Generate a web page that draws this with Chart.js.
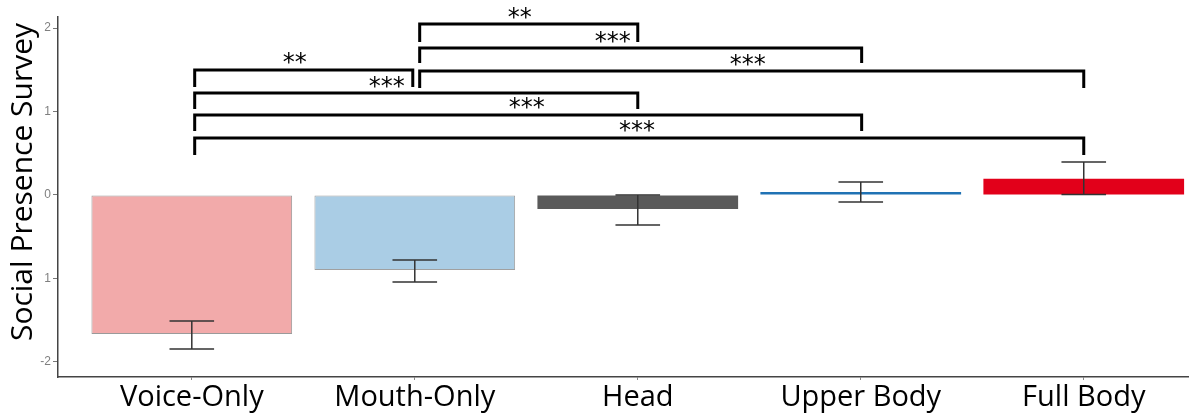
<!DOCTYPE html>
<html>
<head>
<meta charset="utf-8">
<script src="https://cdn.jsdelivr.net/npm/chart.js@4"></script>
<style>
  html, body { margin: 0; padding: 0; background: #fff; overflow: hidden; }
  #chart { display: block; }
</style>
</head>
<body>
<canvas id="chart" width="1189" height="415"></canvas>
<script>
// Conditions and mean scores
const categories = ['Voice-Only', 'Mouth-Only', 'Head', 'Upper Body', 'Full Body'];
const means = [-1.665, -0.898, -0.168, 0.035, 0.195];
const errHigh = [-1.509, -0.778, 0.0, 0.156, 0.395];
const errLow = [-1.844, -1.042, -0.359, -0.084, 0.005];
const barColors = ['#F2AAAA', '#AACDE5', '#5A5A5A', '#2072B4', '#E2001A'];
const barBorders = ['#9A9A9A', '#A0A0A0', '#5A5A5A', '#2072B4', '#E2001A'];
const barBorderWidths = [1, 1, 0, 0, 0];

// y ticks, the -1 label is printed without its minus sign in the original
const yTickValues = [-2, -1, 0, 1, 2];
const yTickLabels = ['-2', '1', '0', '1', '2'];

// Significance brackets: start / end position (category units), top and leg bottom (y)
const bracketFrom = [2.022, 2.022, 2.022, 1.013, 1.013, 1.013, 1.013];
const bracketTo = [3.0, 4.004, 5.0, 1.991, 3.0, 4.004, 5.0];
const bracketTop = [2.048, 1.760, 1.485, 1.497, 1.222, 0.958, 0.683];
const bracketBottom = [1.832, 1.581, 1.281, 1.293, 1.030, 0.766, 0.479];

// Star labels
const starText = ['**', '***', '***', '**', '***', '***', '***'];
const starX = [2.471, 2.888, 3.493, 1.462, 1.874, 2.502, 2.996];
const starY = [2.18, 1.892, 1.617, 1.641, 1.353, 1.102, 0.826];

const barData = categories.map((c, i) => ({ x: i + 1, y: means[i] }));

const bracketSets = bracketFrom.map((f, i) => ({
  type: 'line',
  data: [
    { x: f, y: bracketBottom[i] },
    { x: f, y: bracketTop[i] },
    { x: bracketTo[i], y: bracketTop[i] },
    { x: bracketTo[i], y: bracketBottom[i] }
  ],
  borderColor: '#000',
  borderWidth: 3,
  pointRadius: 0,
  tension: 0,
  fill: false,
  clip: false,
  borderJoinStyle: 'miter'
}));

// error bars drawn on top of the bars
const errorBars = {
  id: 'errorBars',
  afterDatasetsDraw(chart) {
    const ctx = chart.ctx;
    const xs = chart.scales.x, ys = chart.scales.y;
    const half = (xs.getPixelForValue(1.1) - xs.getPixelForValue(1)); // cap half width
    ctx.save();
    ctx.strokeStyle = '#333';
    ctx.lineWidth = 1.5;
    categories.forEach((c, i) => {
      const x = xs.getPixelForValue(i + 1);
      const yh = ys.getPixelForValue(errHigh[i]);
      const yl = ys.getPixelForValue(errLow[i]);
      ctx.beginPath();
      ctx.moveTo(x, yh); ctx.lineTo(x, yl);
      ctx.moveTo(x - half, yh); ctx.lineTo(x + half, yh);
      ctx.moveTo(x - half, yl); ctx.lineTo(x + half, yl);
      ctx.stroke();
    });
    ctx.restore();
  }
};

// stars over brackets + rotated y title
const annotations = {
  id: 'annotations',
  afterDraw(chart) {
    const ctx = chart.ctx;
    const xs = chart.scales.x, ys = chart.scales.y;
    ctx.save();
    ctx.fillStyle = '#000';
    ctx.font = '24px "DejaVu Sans"';
    ctx.textAlign = 'center';
    ctx.textBaseline = 'alphabetic';
    starText.forEach((t, i) => {
      const m = ctx.measureText(t);
      const cy = ys.getPixelForValue(starY[i]);
      ctx.fillText(t, xs.getPixelForValue(starX[i]), cy + (m.actualBoundingBoxAscent - m.actualBoundingBoxDescent) / 2);
    });

    ctx.translate(23, 182);
    ctx.rotate(-Math.PI / 2);
    ctx.font = '30px "Open Sans"';
    ctx.textBaseline = 'middle';
    ctx.fillText('Social Presence Survey', 0, 0);
    ctx.restore();
  }
};

const chart = new Chart(document.getElementById('chart'), {
  type: 'bar',
  data: {
    datasets: [{
      type: 'bar',
      data: barData,
      backgroundColor: barColors,
      borderColor: barBorders,
      borderWidth: barBorderWidths,
      borderSkipped: false,
      barPercentage: 0.9,
      categoryPercentage: 1.0
    }, ...bracketSets]
  },
  options: {
    responsive: false,
    animation: false,
    devicePixelRatio: 1,
    layout: { padding: { top: 17, left: 0, right: 0, bottom: 0 } },
    plugins: { legend: { display: false }, tooltip: { enabled: false } },
    scales: {
      x: {
        type: 'linear',
        offset: false,
        min: 0.4,
        max: 5.472,
        afterBuildTicks: (s) => { s.ticks = categories.map((c, i) => ({ value: i + 1 })); },
        afterFit: (s) => { s.height = 38; },
        ticks: {
          callback: (v) => categories[Math.round(v) - 1] || '',
          font: { family: 'Open Sans', size: 29 },
          color: '#000',
          padding: 0,
          maxRotation: 0,
          autoSkip: false
        },
        grid: { offset: false, drawOnChartArea: false, drawTicks: true, tickLength: 3, color: '#888' },
        border: { display: true, color: '#444', width: 1.5 }
      },
      y: {
        min: -2.18,
        max: 2.132,
        afterBuildTicks: (s) => { s.ticks = yTickValues.map(v => ({ value: v })); },
        afterFit: (s) => { s.width = 58; },
        ticks: {
          callback: (v) => yTickLabels[yTickValues.indexOf(v)],
          font: { family: 'Liberation Sans', size: 12 },
          color: '#7F7F7F',
          padding: 2
        },
        grid: { drawOnChartArea: false, drawTicks: true, tickLength: 5, color: '#777' },
        border: { display: true, color: '#444', width: 1.5 }
      }
    }
  },
  plugins: [errorBars, annotations]
});
</script>
</body>
</html>
